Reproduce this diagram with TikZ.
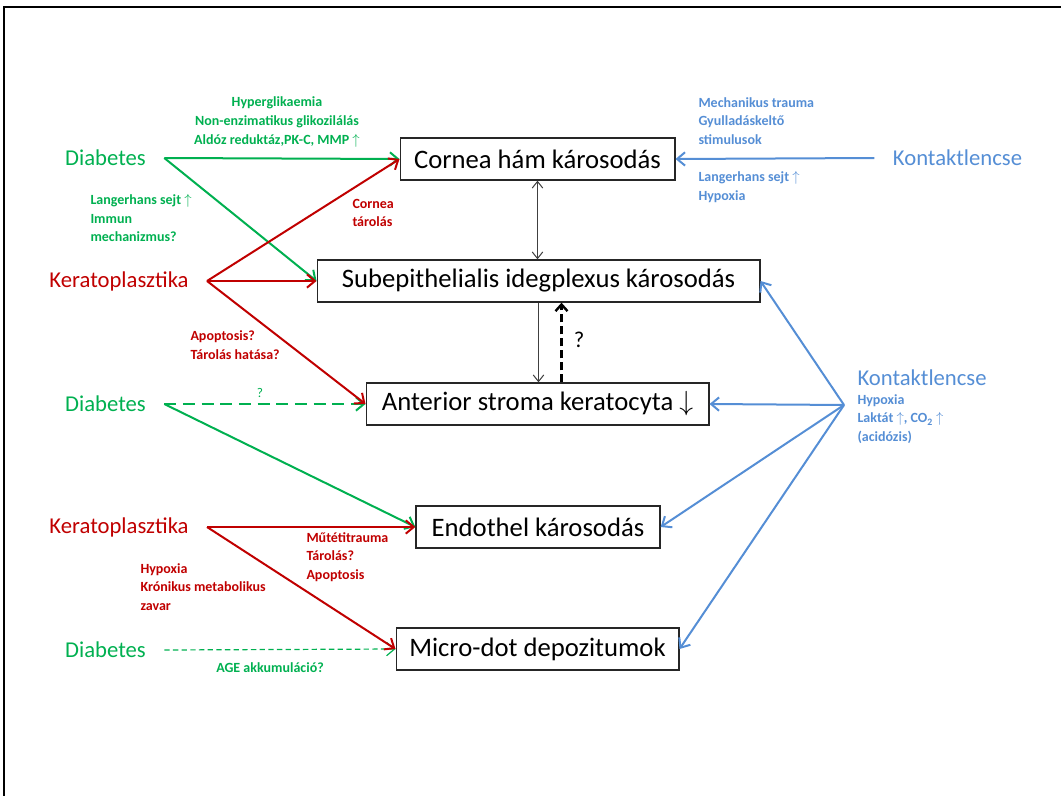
\documentclass[tikz,border=0pt]{standalone}
\usepackage{fontspec}
\setmainfont{Carlito}
\usetikzlibrary{arrows.meta}

\definecolor{dgreen}{RGB}{0,176,80}
\definecolor{dred}{RGB}{192,0,0}
\definecolor{lblue}{RGB}{85,142,213}

\tikzset{every picture/.style={line width=0.75pt}}
\tikzset{
  boxnode/.style={draw=black!85, line width=1pt, minimum height=31.5pt, inner sep=0pt, font=\fontsize{20}{24}\selectfont},
  srcnode/.style={inner xsep=13.5pt, inner ysep=0pt, font=\fontsize{17}{20}\selectfont},
  smalltxt/.style={inner sep=0pt, align=left, font=\bfseries\fontsize{10.5}{13.9}\selectfont},
  flow/.style={line width=1.5pt, -{Straight Barb[length=6pt,width=10pt]}},
  thinarr/.style={draw=black!75, line width=0.75pt},
}

\begin{document}
\begin{tikzpicture}[x=0.75pt,y=0.75pt,yscale=-1,xscale=1]
\useasboundingbox (0,0) rectangle (1061,796);

%Frame
\draw [line width=1.5pt] (4,796) -- (4,7) -- (1061,7) ;

%Boxes
\node [boxnode, minimum width=206pt] (cornea) at (537.5,159) {Cornea hám károsodás};
\node [boxnode, minimum width=332pt] (subepi) at (538.5,281) {Subepithelialis idegplexus károsodás};
\node [boxnode, minimum width=257pt] (anterior) at (537.5,404) {Anterior stroma keratocyta $\downarrow$};
\node [boxnode, minimum width=183pt] (endothel) at (538,527) {Endothel károsodás};
\node [boxnode, minimum width=212pt] (micro) at (537.5,649) {Micro-dot depozitumok};

%Sources
\node [srcnode, text=dgreen] (diaA) at (105.5,158) {Diabetes};
\node [srcnode, text=dred] (keraA) at (119,281) {Keratoplasztika};
\node [srcnode, text=dgreen] (diaB) at (105.5,404) {Diabetes};
\node [srcnode, text=dred] (keraB) at (119,527) {Keratoplasztika};
\node [srcnode, text=dgreen] (diaC) at (105.5,650) {Diabetes};
\node [srcnode, text=lblue] (kontA) at (957.5,158) {Kontaktlencse};
\node [srcnode, inner sep=0pt, anchor=west, text=lblue] (kontB) at (857,378) {Kontaktlencse};
\coordinate (kontBsrc) at (844,405);

%Green arrows
\draw [flow, dgreen] (diaA.east) -- (cornea.west) ;
\draw [flow, dgreen] (diaA.east) -- (subepi.west) ;
\draw [flow, dgreen, dash pattern=on 9pt off 5pt] (diaB.east) -- (anterior.west) ;
\draw [flow, dgreen] (diaB.east) -- (endothel.west) ;
\draw [flow, dgreen, line width=0.9pt, dash pattern=on 4pt off 2.5pt] (diaC.east) -- (micro.west) ;

%Red arrows
\draw [flow, dred] (keraA.east) -- (cornea.west) ;
\draw [flow, dred] (keraA.east) -- (subepi.west) ;
\draw [flow, dred] (keraA.east) -- (anterior.west) ;
\draw [flow, dred] (keraB.east) -- (endothel.west) ;
\draw [flow, dred] (keraB.east) -- (micro.west) ;

%Blue arrows
\draw [flow, lblue] (kontA.west) -- (cornea.east) ;
\draw [flow, lblue] (kontBsrc) -- (subepi.east) ;
\draw [flow, lblue] (kontBsrc) -- (anterior.east) ;
\draw [flow, lblue] (kontBsrc) -- (endothel.east) ;
\draw [flow, lblue] (kontBsrc) -- (micro.east) ;

%Vertical arrows
\draw [thinarr, {Straight Barb[length=5pt,width=8pt]}-{Straight Barb[length=5pt,width=8pt]}] (cornea.south) -- (cornea.south |- subepi.north) ;
\draw [thinarr, -{Straight Barb[length=5pt,width=8pt]}] (subepi.south) -- (subepi.south |- anterior.north) ;
\draw [line width=1.8pt, dash pattern=on 6pt off 3pt, -{Straight Barb[length=5pt,width=9pt]}] ([xshift=18pt]anterior.north) -- ([xshift=18pt]anterior.north |- subepi.south) ;

% Text Node
\node [smalltxt, align=center, text=dgreen] (hyper) at (277,122) {Hyperglikaemia\\Non-enzimatikus glikozilálás\\Aldóz reduktáz,PK-C, MMP $\uparrow$};
% Text Node
\node [smalltxt, anchor=west, text=dgreen] (langA) at (90,218) {Langerhans sejt $\uparrow$\\Immun\\mechanizmus?};
% Text Node
\node [smalltxt, anchor=west, text=dred] (tarol) at (352,213) {Cornea\\tárolás};
% Text Node
\node [smalltxt, anchor=west, text=dred] (apop) at (190,345) {Apoptosis?\\Tárolás hatása?};
% Text Node
\node [inner sep=0pt, text=dgreen, font=\fontsize{10}{12}\selectfont] (qgreen) at (260,393) {?};
% Text Node
\node [inner sep=0pt, font=\fontsize{17}{20}\selectfont] (qblack) at (579,340) {?};
% Text Node
\node [smalltxt, anchor=west, text=dred] (mutet) at (306,557) {Műtétitrauma\\Tárolás?\\Apoptosis};
% Text Node
\node [smalltxt, anchor=west, text=dred] (hypoR) at (140,587) {Hypoxia\\Krónikus metabolikus\\zavar};
% Text Node
\node [smalltxt, text=dgreen] (age) at (270,668) {AGE akkumuláció?};
% Text Node
\node [smalltxt, anchor=west, text=lblue] (mech) at (698,121) {Mechanikus trauma\\Gyulladáskeltő\\stimulusok};
% Text Node
\node [smalltxt, anchor=west, text=lblue] (langB) at (698,187) {Langerhans sejt $\uparrow$\\Hypoxia};
% Text Node
\node [smalltxt, anchor=west, text=lblue] (lakt) at (857,419) {Hypoxia\\Laktát $\uparrow$, CO\textsubscript{2} $\uparrow$\\(acidózis)};

\end{tikzpicture}
\end{document}
